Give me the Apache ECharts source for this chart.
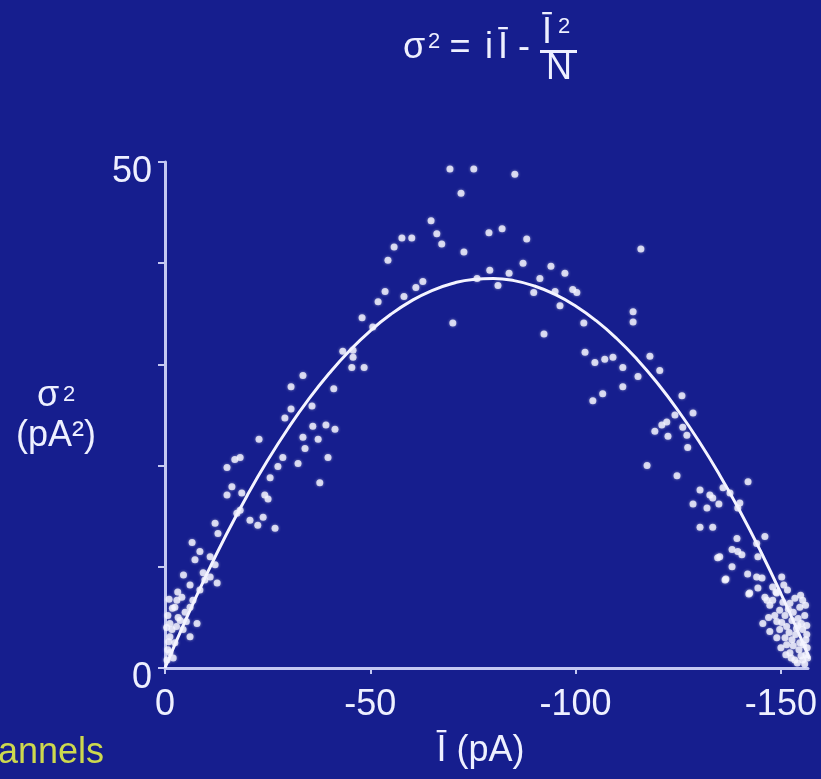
<!DOCTYPE html>
<html><head><meta charset="utf-8">
<script src="https://cdn.jsdelivr.net/npm/echarts@6/dist/echarts.min.js"></script>
<style>html,body{margin:0;padding:0;background:#161e8e;}#c{width:821px;height:779px;}</style>
</head><body><div id="c"></div>
<script>
// Scatter: mean current (pA) and variance (pA^2)
const meanCurrent = [
-69.4,-75.2,-85.2,-72.1,-64.8,-66.2,-67.4,-57.7,-60.1,-55.8,-54.3,-78.9,-82.1,-88.1,-72.8,-87.2,-94.0,-97.4,-79.1,-83.8,
-91.3,-99.3,-100.3,-89.8,-95.0,-96.2,-102.0,-92.3,-70.1,-76.0,-81.1,-62.8,-61.1,-53.6,-58.2,-51.9,-48.0,-50.6,-43.3,-45.8,
-45.5,-48.5,-45.8,
-115.9,-114.0,-114.0,-102.3,-104.7,-107.1,-109.1,-111.5,-115.2,-118.1,-120.5,-111.5,-106.6,-104.2,-125.9,-128.6,-124.2,-122.2,-121.0,-119.3,
-122.5,-126.1,-127.1,-127.3,-117.4,-124.7,-142.0,-130.3,-132.7,-133.4,-135.9,-128.6,-132.0,-134.9,-137.6,-140.0,-139.5,-130.3,-133.4,-146.1,
-139.3,-144.1,-138.1,-139.5,-135.1,-134.6,-140.5,-144.4,-138.1,-141.9,-144.1,-145.4,-136.6,-150.2,-144.4,-142.2,-146.1,-148.0,-136.4,-142.4,
-146.6,-149.0,-152.2,-154.6,-145.6,-147.3,-149.0,-151.4,-152.2,-154.6,-155.3,
-149.7,-151.0,-152.7,-154.1,-155.8,-155.3,-153.6,-156.1,-154.4,-156.1,-153.4,-151.4,-150.2,-148.5,-151.6,-153.4,-155.3,-147.3,-149.7,-152.7,
-156.4,-156.3,-150.7,-148.0,
-150.5,-151.8,-153.0,-154.2,-155.0,-152.0,-153.0,-154.9,-155.8,-156.3,-156.0,-154.8,-153.8,-152.5,-151.0,-149.0,-150.0,-148.8,-147.0,-155.5,
-156.5,-154.0,-151.2,
-41.1,-33.6,-30.7,-35.8,-30.7,-29.2,-36.0,-39.2,-41.4,-33.6,-37.3,-22.9,-34.1,-39.7,-28.7,-18.3,-17.0,-27.5,-32.4,-15.1,
-25.6,-37.7,-16.3,-15.1,-18.7,-24.3,-25.1,-18.3,-20.7,-17.5,-12.2,-23.9,-22.6,-26.8,-12.9,-6.6,-8.5,-11.0,-7.3,-12.2,
-9.3,-12.7,-11.0,-6.1,-4.1,-6.8,-2.4,-6.1,-3.2,-1.2,-7.8,-4.4,-1.2,-6.1,-2.4,-1.2,-0.5,-0.7,
-1.7,-3.7,-4.9,-2.9,-0.7,-8.5,-9.7,
-0.9,-1.8,-2.8,-0.4,-3.1,-1.0,-4.5,-2.0,-5.2
];
const variance = [
49.3,49.3,48.8,46.9,44.2,42.9,41.9,42.5,42.5,41.6,40.3,43.0,43.4,42.4,41.1,40.0,39.7,39.0,39.3,39.0,
38.5,37.4,37.1,37.1,37.2,35.8,34.1,33.0,34.1,38.5,37.8,38.2,37.6,37.2,36.7,36.2,34.6,33.7,31.3,30.7,
29.7,29.7,31.4,
41.4,35.2,34.2,31.2,30.2,30.5,30.7,29.7,28.8,30.8,29.4,27.8,27.1,26.4,26.9,25.2,25.0,24.3,24.0,23.4,
22.9,23.8,23.0,21.8,20.0,19.0,18.4,17.6,17.1,16.8,17.8,16.2,15.8,16.2,17.3,16.3,15.8,13.9,13.9,13.0,
12.8,12.3,11.7,11.5,11.0,10.9,11.2,11.0,10.0,9.3,9.0,8.9,8.8,9.0,7.9,7.3,7.0,6.7,8.7,7.4,
6.7,7.4,6.4,6.0,4.4,3.6,3.0,4.1,1.5,2.5,0.8,
5.7,5.2,4.7,4.2,5.2,3.8,3.3,2.8,1.8,1.3,0.8,2.3,4.5,5.2,7.7,6.9,6.7,6.2,3.8,2.8,
2.0,4.2,8.2,8.0,
6.5,5.8,5.5,4.9,4.4,3.5,2.2,1.2,0.4,3.3,6.2,7.2,3.9,1.0,3.0,4.6,2.0,7.5,5.0,2.3,
1.0,0.5,1.3,
27.6,28.9,27.8,25.9,25.6,24.7,23.9,24.0,23.6,22.8,22.6,22.6,21.7,20.8,20.8,20.8,20.6,19.9,20.2,19.8,
18.8,18.3,17.9,17.1,17.3,17.1,16.7,15.6,14.6,15.3,14.3,14.9,14.1,13.8,13.3,12.4,11.5,11.0,10.7,10.2,
9.4,8.4,9.0,8.2,7.0,6.7,6.0,6.0,5.0,4.4,4.4,3.8,3.1,3.1,2.5,1.5,0.8,1.8,
3.8,4.7,5.5,6.7,5.2,7.7,8.7,
2.6,5.9,4.1,4.0,7.5,6.8,9.2,1.0,4.6
];
// Fitted parabola
const fitCurrent = [0,-5,-10,-15,-20,-25,-30,-35,-40,-45,-50,-55,-60,-65,-70,-75,-80,-85,-90,-95,-100,-105,-110,-115,-120,-125,-130,-135,-140,-145,-150,-155,-157];
const fitVariance = [0,4.72,9.13,13.24,17.03,20.52,23.69,26.56,29.12,31.38,33.32,34.95,36.28,37.30,38.0,38.40,38.49,38.28,37.75,36.92,35.77,34.32,32.56,30.49,28.11,25.42,22.43,19.13,15.51,11.59,7.36,2.82,0.92];
const xTickLabels = [0,-50,-100,-150];
const yTickLabels = [0,50];
const yTicks = [0,10,20,30,40,50];

const chart = echarts.init(document.getElementById('c'));
const font = '"Liberation Sans", Arial, sans-serif';
const axisCol = '#c4c8f2';
const txtCol = '#eef0ff';
function t(text, x, y, size, color) {
  return {type: 'text', x: x, y: y, style: {text: text, fill: color || txtCol, font: size + 'px ' + font, align: 'center', verticalAlign: 'top'}};
}
chart.setOption({
  backgroundColor: '#161e8e',
  animation: false,
  grid: {left: 165, right: 13, top: 162, bottom: 111, containLabel: false},
  xAxis: {
    type: 'value', inverse: true, min: -156.6, max: 0,
    axisLine: {show: true, onZero: false, lineStyle: {color: axisCol, width: 3}},
    axisTick: {show: true, length: 6, customValues: xTickLabels, lineStyle: {color: axisCol, width: 2}},
    axisLabel: {customValues: xTickLabels, color: txtCol, fontSize: 36, fontFamily: font, margin: 19},
    splitLine: {show: false},
    name: 'Ī (pA)', nameLocation: 'middle', nameGap: 65,
    nameTextStyle: {color: txtCol, fontSize: 36, fontFamily: font, padding: [0, 12, 0, 0]}
  },
  yAxis: {
    type: 'value', min: 0, max: 50,
    axisLine: {show: true, lineStyle: {color: axisCol, width: 3}},
    axisTick: {show: true, length: 7, customValues: yTicks, lineStyle: {color: axisCol, width: 2}},
    axisLabel: {customValues: yTickLabels, color: txtCol, fontSize: 36, fontFamily: font, margin: 13, verticalAlign: 'top', lineHeight: 20},
    splitLine: {show: false}
  },
  graphic: [
    // y axis name
    t('σ', 48, 378, 36), t('2', 69, 384, 22),
    t('(pA²)', 56, 418, 36),
    // title formula
    t('σ', 414, 30, 36), t('2', 434, 31, 22),
    t('=', 460, 30, 36), t('i', 489, 30, 36), t('Ī', 503, 30, 36), t('-', 524, 30, 36),
    t('Ī', 547, 15, 36), t('2', 564, 16, 22),
    {type: 'rect', shape: {x: 540, y: 50, width: 37, height: 3}, style: {fill: txtCol}},
    t('N', 559, 51, 36),
    {type: 'text', x: -2, y: 735, style: {text: 'annels', fill: '#cdd94e', font: '36px ' + font, verticalAlign: 'top'}}
  ],
  series: [
    {
      type: 'scatter', data: meanCurrent.map((x, k) => [x, variance[k]]),
      symbol: 'circle', symbolSize: 7,
      itemStyle: {color: '#f4f4ff', shadowBlur: 3, shadowColor: 'rgba(255,255,255,0.6)'},
      z: 3
    },
    {
      type: 'line', data: fitCurrent.map((x, k) => [x, fitVariance[k]]),
      smooth: true, showSymbol: false,
      lineStyle: {color: '#f4f4ff', width: 3},
      z: 4
    }
  ]
});
</script></body></html>
